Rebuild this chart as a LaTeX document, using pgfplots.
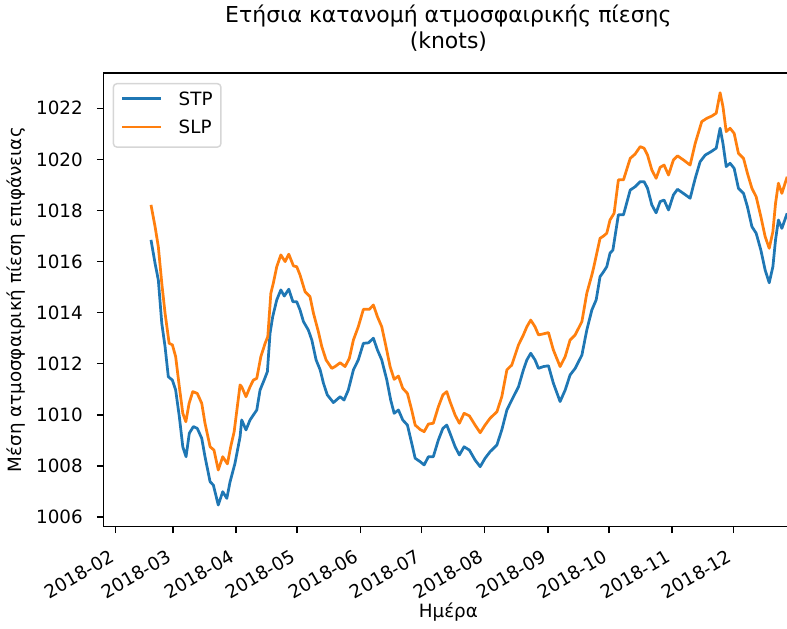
\documentclass[border=0pt]{standalone}
\usepackage{fontspec}
\setmainfont{DejaVu Sans}
\usepackage{pgfplots}
\pgfplotsset{compat=1.18}
\definecolor{tabblue}{RGB}{31,119,180}
\definecolor{taborange}{RGB}{255,127,14}
\definecolor{legframe}{RGB}{214,214,214}
\begin{document}
\begin{tikzpicture}
\begin{axis}[
  at={(0pt,0pt)}, anchor=south west,
  scale only axis, width=377.1pt, height=248.0pt,
  xmin=25.9, xmax=364.5, ymin=1005.62, ymax=1023.39,
  axis line style={line width=0.8pt},
  tick align=outside, xtick pos=bottom, ytick pos=left,
  major tick length=3.5pt,
  every tick/.style={black, line width=0.8pt},
  xtick={32,60,91,121,152,182,213,244,274,305,335},
  xticklabels={2018-02,2018-03,2018-04,2018-05,2018-06,2018-07,2018-08,2018-09,2018-10,2018-11,2018-12},
  ytick={1006,1008,1010,1012,1014,1016,1018,1020,1022},
  yticklabels={1006,1008,1010,1012,1014,1016,1018,1020,1022},
  tick label style={font=\fontsize{10}{12}\selectfont},
  xticklabel style={anchor=north east, inner sep=0pt, xshift=-3.8pt, yshift=-8.6pt, rotate=30},
  yticklabel style={anchor=east, inner sep=0pt, xshift=-7.5pt},
  title={Ετήσια κατανομή ατμοσφαιρικής πίεσης\\(knots)},
  title style={at={(axis description cs:0.5,1)}, anchor=south, inner sep=0pt, yshift=5.3pt, align=center, font=\fontsize{12}{14.4}\selectfont},
  xlabel={Ημέρα},
  xlabel style={at={(axis description cs:0.5,-0.2005)}, anchor=base, inner sep=0pt, font=\fontsize{10}{12}\selectfont},
  ylabel={Μέση ατμοσφαιρική πίεση επιφάνειας},
  ylabel style={at={(axis description cs:-0.1120,0.5)}, anchor=south, rotate=0, inner sep=0pt, font=\fontsize{10}{12}\selectfont},
  legend style={at={(0,1)}, anchor=north west, xshift=5.1pt, yshift=-5.5pt,
    draw=legframe, line width=0.8pt, rounded corners=2pt, fill=white,
    inner xsep=4.6pt, inner ysep=4.6pt, row sep=5.5pt,
    font=\fontsize{10}{12}\selectfont,
    nodes={inner sep=0pt, text height=7.3pt, text depth=2.7pt},
    cells={anchor=base west},
    /tikz/every odd column/.append style={column sep=9.6pt}},
  legend image code/.code={\draw[#1, line cap=rect, rounded corners=0pt] (0pt,3.65pt) -- (20pt,3.65pt);},
]
\addplot[tabblue, line width=1.5pt, line join=round] coordinates {
(49.3,1016.85) (51.3,1015.93) (52.9,1015.28) (54.6,1013.58) (56.2,1012.67) (57.8,1011.49) (59.8,1011.36) (61.4,1010.97) (63.2,1009.93) (64.9,1008.75) (66.5,1008.36) (68.1,1009.28) (70.1,1009.54) (72.0,1009.47) (74.2,1009.08) (75.8,1008.36) (78.3,1007.38) (79.9,1007.25) (82.3,1006.47) (84.5,1006.99) (86.5,1006.73) (88.1,1007.38) (90.5,1008.10) (93.0,1009.14) (93.8,1009.80) (95.9,1009.41) (97.9,1009.80) (99.5,1009.99) (101.2,1010.19) (102.8,1010.97) (104.8,1011.36) (106.4,1011.69) (107.7,1013.19) (109.0,1013.84) (111.0,1014.50) (113.0,1014.89) (114.7,1014.65) (116.9,1014.92) (118.9,1014.43) (120.8,1014.43) (122.4,1014.11) (124.1,1013.65) (126.5,1013.32) (128.2,1012.93) (130.3,1012.15) (132.3,1011.76) (133.9,1011.24) (135.8,1010.78) (138.8,1010.48) (142.1,1010.71) (144.0,1010.58) (146.1,1010.97) (148.6,1011.76) (151.0,1012.15) (153.5,1012.80) (156.0,1012.82) (158.4,1013.00) (160.4,1012.54) (162.5,1012.15) (165.0,1011.36) (166.9,1010.58) (168.6,1010.06) (170.7,1010.19) (172.8,1009.80) (175.1,1009.60) (177.2,1008.89) (178.9,1008.30) (181.3,1008.17) (183.3,1008.04) (185.4,1008.36) (187.8,1008.36) (190.3,1009.02) (192.5,1009.47) (194.4,1009.60) (196.0,1009.28) (198.5,1008.75) (200.6,1008.43) (202.9,1008.75) (205.5,1008.62) (208.3,1008.23) (210.8,1007.97) (213.2,1008.30) (215.7,1008.56) (219.0,1008.82) (221.4,1009.41) (223.9,1010.19) (226.3,1010.58) (229.6,1011.10) (232.0,1011.76) (233.7,1012.15) (235.6,1012.41) (237.7,1012.15) (239.4,1011.82) (241.8,1011.89) (244.3,1011.92) (246.7,1011.24) (250.0,1010.52) (252.5,1010.97) (254.9,1011.56) (257.4,1011.82) (260.7,1012.34) (263.1,1013.32) (265.6,1014.11) (267.7,1014.50) (269.6,1015.41) (271.3,1015.60) (272.9,1015.80) (274.5,1016.33) (275.9,1016.45) (278.6,1017.83) (281.1,1017.83) (284.4,1018.80) (286.8,1018.93) (289.3,1019.13) (291.2,1019.13) (292.9,1018.87) (295.0,1018.22) (297.1,1017.91) (299.1,1018.35) (301.0,1018.41) (303.2,1018.02) (305.6,1018.61) (307.6,1018.83) (310.5,1018.67) (313.8,1018.48) (316.3,1019.26) (318.7,1019.91) (321.2,1020.17) (324.0,1020.30) (326.6,1020.44) (328.5,1021.22) (329.9,1020.63) (331.5,1019.72) (333.4,1019.85) (335.4,1019.65) (337.5,1018.87) (340.0,1018.67) (341.9,1018.15) (344.1,1017.37) (346.2,1017.11) (348.5,1016.45) (350.6,1015.67) (352.6,1015.17) (354.4,1015.80) (355.7,1016.85) (357.1,1017.63) (358.8,1017.30) (361.4,1017.89)
};
\addlegendentry{STP}
\addplot[taborange, line width=1.5pt, line join=round] coordinates {
(49.3,1018.22) (51.3,1017.37) (52.9,1016.58) (54.6,1015.15) (56.2,1013.98) (58.2,1012.80) (59.8,1012.74) (61.4,1012.28) (63.2,1011.10) (64.9,1010.06) (66.4,1009.73) (68.0,1010.45) (69.8,1010.91) (72.0,1010.84) (74.2,1010.45) (75.8,1009.67) (78.3,1008.75) (80.2,1008.62) (82.3,1007.84) (84.5,1008.36) (86.8,1008.08) (88.4,1008.75) (90.1,1009.34) (93.0,1011.17) (93.8,1011.10) (95.9,1010.71) (97.9,1011.10) (99.5,1011.36) (101.2,1011.43) (103.2,1012.28) (105.3,1012.80) (106.6,1013.06) (108.1,1014.76) (109.3,1015.15) (111.0,1015.80) (113.0,1016.26) (115.1,1016.00) (116.9,1016.29) (119.2,1015.83) (120.8,1015.80) (122.4,1015.48) (124.9,1014.82) (127.3,1014.63) (129.0,1013.98) (131.4,1013.26) (133.1,1012.67) (135.2,1012.15) (138.0,1011.82) (139.6,1011.89) (142.1,1012.04) (144.5,1011.89) (146.6,1012.21) (148.6,1012.93) (151.0,1013.45) (153.5,1014.13) (156.4,1014.13) (158.4,1014.30) (160.4,1013.84) (162.5,1013.45) (164.6,1012.67) (166.6,1011.89) (168.6,1011.39) (170.7,1011.52) (172.8,1011.04) (175.1,1010.84) (177.2,1010.19) (178.9,1009.60) (181.3,1009.43) (183.3,1009.34) (185.4,1009.64) (187.8,1009.67) (190.3,1010.32) (192.5,1010.78) (194.4,1010.91) (196.0,1010.52) (198.5,1009.99) (200.6,1009.67) (202.9,1010.06) (205.5,1009.96) (208.3,1009.60) (210.8,1009.30) (213.2,1009.60) (215.7,1009.87) (219.0,1010.12) (221.4,1010.71) (223.9,1011.76) (226.3,1011.95) (229.6,1012.74) (232.0,1013.13) (233.7,1013.45) (235.6,1013.71) (237.7,1013.45) (239.4,1013.13) (241.8,1013.17) (244.3,1013.22) (246.7,1012.54) (250.0,1011.89) (252.5,1012.28) (254.9,1012.93) (257.4,1013.13) (260.7,1013.65) (263.1,1014.76) (265.6,1015.48) (266.4,1015.74) (269.6,1016.91) (271.3,1017.00) (272.9,1017.11) (274.5,1017.63) (276.5,1017.89) (278.6,1019.20) (281.1,1019.20) (284.4,1020.04) (286.8,1020.21) (289.3,1020.50) (291.2,1020.44) (292.9,1020.17) (295.0,1019.59) (297.1,1019.26) (299.1,1019.69) (301.0,1019.78) (303.2,1019.39) (305.6,1019.98) (307.6,1020.14) (310.5,1019.98) (313.8,1019.78) (316.3,1020.63) (319.5,1021.48) (322.0,1021.61) (324.5,1021.70) (326.6,1021.81) (328.5,1022.61) (329.9,1022.07) (331.5,1021.09) (333.4,1021.22) (335.4,1021.02) (337.5,1020.24) (340.0,1020.04) (341.9,1019.46) (344.1,1018.87) (346.2,1018.54) (348.5,1017.76) (350.6,1016.98) (352.6,1016.52) (354.4,1017.17) (355.7,1018.28) (357.1,1019.07) (358.8,1018.67) (361.4,1019.32)
};
\addlegendentry{SLP}
\end{axis}
\pgfresetboundingbox
\useasboundingbox (-56.44pt,-55.35pt) rectangle (373.57pt,287.79pt);
\end{tikzpicture}
\end{document}
